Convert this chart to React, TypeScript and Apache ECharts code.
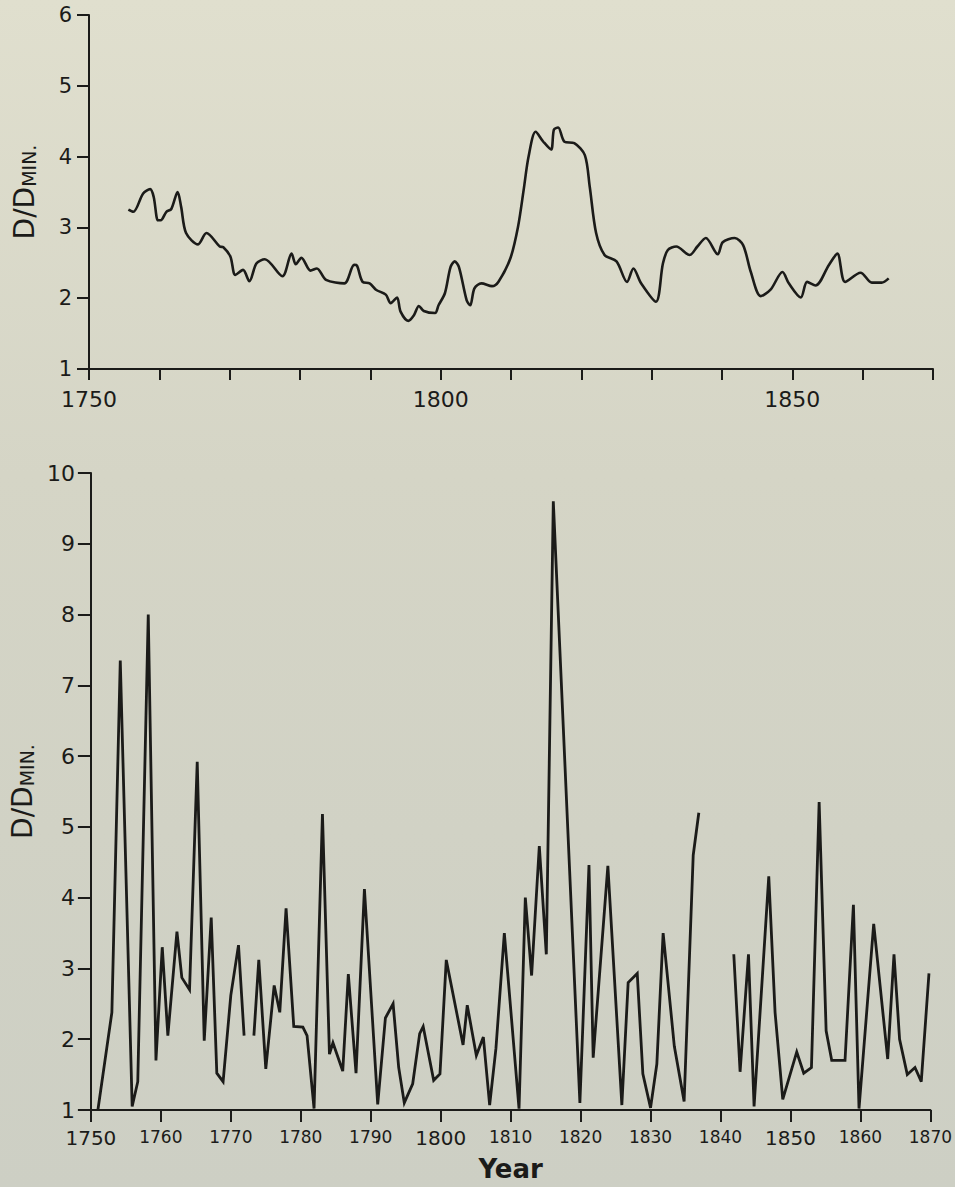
import React, { useEffect, useRef } from "react";
import * as echarts from "echarts";

// Top panel: smoothed series (year, D/Dmin)
const topYears = [
  1755.6, 1756.3, 1757.7, 1758.7, 1759.2, 1759.8, 1760.2, 1761.0, 1761.7, 1762.6,
  1763.1, 1763.8, 1765.5, 1766.7, 1768.6, 1769.1, 1770.1, 1770.8, 1771.9, 1772.8,
  1773.8, 1775.0, 1777.5, 1778.8, 1779.4, 1780.2, 1781.5, 1782.4, 1783.7, 1786.3,
  1787.7, 1788.1, 1788.9, 1789.9, 1790.8, 1792.2, 1792.9, 1793.8, 1794.3, 1795.4,
  1796.2, 1796.9, 1797.6, 1799.2, 1799.7, 1800.6, 1801.4, 1802.0, 1802.6, 1803.7,
  1804.2, 1804.8, 1805.8, 1807.3, 1808.2, 1809.9, 1811.0, 1811.8, 1812.5, 1813.5,
  1814.6, 1815.7, 1816.1, 1816.7, 1817.6, 1819.0, 1820.5, 1821.2, 1822.1, 1823.3,
  1825.0, 1826.5, 1827.4, 1828.5, 1830.6, 1831.6, 1832.3, 1833.5, 1835.4, 1836.5,
  1837.7, 1839.4, 1840.1, 1841.8, 1843.0, 1844.1, 1845.5, 1846.9, 1848.6, 1849.5,
  1851.2, 1852.1, 1853.3, 1855.2, 1856.4, 1857.5, 1859.7, 1861.3, 1862.7, 1863.7,
];
const topValues = [
  3.25, 3.22, 3.48, 3.54, 3.43, 3.10, 3.10, 3.22, 3.26, 3.50,
  3.29, 2.92, 2.76, 2.92, 2.73, 2.72, 2.59, 2.33, 2.40, 2.24,
  2.49, 2.55, 2.31, 2.63, 2.48, 2.57, 2.39, 2.42, 2.26, 2.21,
  2.47, 2.46, 2.23, 2.21, 2.12, 2.05, 1.93, 2.01, 1.81, 1.68,
  1.76, 1.89, 1.82, 1.79, 1.90, 2.07, 2.44, 2.52, 2.44, 1.97,
  1.90, 2.14, 2.21, 2.17, 2.23, 2.56, 3.01, 3.53, 4.00, 4.35,
  4.21, 4.10, 4.38, 4.41, 4.21, 4.19, 4.02, 3.57, 2.92, 2.61,
  2.52, 2.23, 2.42, 2.21, 1.95, 2.49, 2.68, 2.73, 2.61, 2.73,
  2.85, 2.62, 2.79, 2.85, 2.75, 2.37, 2.03, 2.12, 2.37, 2.21,
  2.01, 2.23, 2.18, 2.47, 2.63, 2.23, 2.36, 2.22, 2.22, 2.28,
];

// Bottom panel: annual series (null = gap in record)
const bottomYears = [
  1751.0, 1753.0, 1754.2, 1755.9, 1756.7, 1758.2, 1759.3, 1760.2, 1761.0, 1762.3,
  1763.0, 1764.1, 1765.2, 1766.2, 1767.2, 1768.0, 1768.9, 1770.0, 1771.1, 1771.9,
  1772.5,
  1773.3, 1774.0, 1775.0, 1776.2, 1777.0, 1777.9, 1779.0, 1780.3, 1780.9, 1781.9,
  1783.1, 1784.1, 1784.6, 1786.0, 1786.8, 1787.9, 1789.1, 1791.0, 1792.1, 1793.2,
  1794.0, 1794.8, 1796.0, 1797.0, 1797.5, 1799.0, 1799.9, 1800.8, 1803.2, 1803.8,
  1805.1, 1806.1, 1807.0, 1807.9, 1809.1, 1811.2, 1812.1, 1813.0, 1814.1, 1815.1,
  1816.1, 1819.9, 1821.2, 1821.8, 1823.9, 1825.9, 1826.8, 1828.1, 1828.9, 1830.0,
  1830.9, 1831.8, 1833.4, 1834.8, 1836.1, 1836.9,
  1839.5,
  1841.9, 1842.8, 1844.0, 1844.8, 1846.9, 1847.8, 1848.9, 1850.9, 1851.9, 1853.0,
  1854.1, 1855.1, 1855.9, 1857.8, 1859.0, 1859.8, 1861.9, 1863.9, 1864.8, 1865.6,
  1866.7, 1867.8, 1868.7, 1869.8,
];
const bottomValues = [
  1.0, 2.38, 7.35, 1.05, 1.40, 8.0, 1.70, 3.30, 2.05, 3.52,
  2.87, 2.70, 5.92, 1.98, 3.72, 1.52, 1.40, 2.62, 3.33, 2.05,
  null,
  2.05, 3.12, 1.58, 2.76, 2.38, 3.85, 2.18, 2.17, 2.05, 1.02,
  5.18, 1.79, 1.95, 1.55, 2.92, 1.52, 4.12, 1.08, 2.30, 2.50,
  1.60, 1.10, 1.37, 2.08, 2.18, 1.42, 1.51, 3.12, 1.92, 2.48,
  1.77, 2.03, 1.07, 1.87, 3.50, 1.02, 4.00, 2.90, 4.73, 3.20,
  9.60, 1.10, 4.46, 1.74, 4.45, 1.07, 2.80, 2.93, 1.51, 1.03,
  1.65, 3.50, 1.90, 1.12, 4.60, 5.20,
  null,
  3.20, 1.54, 3.20, 1.05, 4.30, 2.38, 1.15, 1.82, 1.52, 1.60,
  5.35, 2.12, 1.70, 1.70, 3.90, 1.02, 3.63, 1.72, 3.20, 2.00,
  1.50, 1.60, 1.40, 2.93,
];

const topXLabels = [1750, 1800, 1850];
const bigXLabels = [1750, 1800, 1850];

const INK = "#1b1b19";
const FONT = "DejaVu Sans";

export default function App() {
  const ref = useRef<HTMLDivElement>(null);

  useEffect(() => {
    if (!ref.current) return;
    const chart = echarts.init(ref.current, undefined, { renderer: "svg" });

    const yName = "{a|D/D}{b|MIN.}";
    const yNameStyle = {
      rich: {
        a: { fontSize: 28, fontFamily: FONT, color: INK, verticalAlign: "bottom", lineHeight: 30 },
        b: { fontSize: 19, fontFamily: FONT, color: INK, verticalAlign: "bottom", lineHeight: 30 },
      },
    };
    const axisLineStyle = { color: INK, width: 2 };

    const option: any = {
      animation: false,
      backgroundColor: {
        type: "linear",
        x: 0,
        y: 0,
        x2: 0,
        y2: 1,
        colorStops: [
          { offset: 0, color: "#e0dfce" },
          { offset: 0.4, color: "#d5d5c6" },
          { offset: 1, color: "#cdcfc4" },
        ],
      },
      grid: [
        { left: 89, top: 15, width: 844, height: 354 },
        { left: 88, top: 473, width: 845, height: 638 },
      ],
      xAxis: [
        {
          gridIndex: 0,
          type: "value",
          min: 1750,
          max: 1870,
          interval: 10,
          axisLine: { onZero: false, lineStyle: axisLineStyle },
          axisTick: { length: 11, lineStyle: { color: INK, width: 2 } },
          splitLine: { show: false },
          axisLabel: {
            margin: 19,
            fontSize: 22,
            fontFamily: FONT,
            color: INK,
            formatter: (v: number) => (topXLabels.includes(v) ? String(v) : ""),
          },
        },
        {
          gridIndex: 1,
          type: "value",
          min: 1750,
          max: 1870,
          interval: 10,
          name: "Year",
          nameLocation: "middle",
          nameGap: 46,
          nameTextStyle: { fontSize: 26, fontFamily: FONT, color: INK, fontWeight: "bold" },
          axisLine: { onZero: false, lineStyle: axisLineStyle },
          axisTick: { length: 12, lineStyle: { color: INK, width: 2 } },
          splitLine: { show: false },
          axisLabel: {
            margin: 18,
            color: INK,
            fontFamily: FONT,
            formatter: (v: number) => (bigXLabels.includes(v) ? `{big|${v}}` : `{small|${v}}`),
            rich: {
              big: { fontSize: 20, fontFamily: FONT, color: INK },
              small: { fontSize: 17, fontFamily: FONT, color: INK },
            },
          },
        },
      ],
      yAxis: [
        {
          gridIndex: 0,
          type: "value",
          min: 1,
          max: 6,
          interval: 1,
          name: yName,
          nameLocation: "middle",
          nameGap: 51,
          nameRotate: 90,
          nameTextStyle: yNameStyle,
          axisLine: { show: true, onZero: false, lineStyle: axisLineStyle },
          axisTick: { show: true, length: 12, lineStyle: { color: INK, width: 2 } },
          splitLine: { show: false },
          axisLabel: { margin: 17, fontSize: 21, fontFamily: FONT, color: INK },
        },
        {
          gridIndex: 1,
          type: "value",
          min: 1,
          max: 10,
          interval: 1,
          name: yName,
          nameLocation: "middle",
          nameGap: 51,
          nameRotate: 90,
          nameTextStyle: yNameStyle,
          axisLine: { show: true, onZero: false, lineStyle: axisLineStyle },
          axisTick: { show: true, length: 13, lineStyle: { color: INK, width: 2 } },
          splitLine: { show: false },
          axisLabel: { margin: 16, fontSize: 22, fontFamily: FONT, color: INK },
        },
      ],
      series: [
        {
          type: "line",
          xAxisIndex: 0,
          yAxisIndex: 0,
          data: topYears.map((y, i) => [y, topValues[i]]),
          smooth: 0.3,
          showSymbol: false,
          lineStyle: { color: INK, width: 2.6 },
        },
        {
          type: "line",
          xAxisIndex: 1,
          yAxisIndex: 1,
          data: bottomYears.map((y, i) => [y, bottomValues[i] === null ? "-" : bottomValues[i]]),
          connectNulls: false,
          showSymbol: false,
          lineStyle: { color: INK, width: 2.8, join: "miter" },
        },
      ],
    };

    chart.setOption(option);
    return () => chart.dispose();
  }, []);

  return (
    <div
      ref={ref}
      style={{ position: "absolute", left: 0, top: 0, width: 955, height: 1187 }}
    />
  );
}
